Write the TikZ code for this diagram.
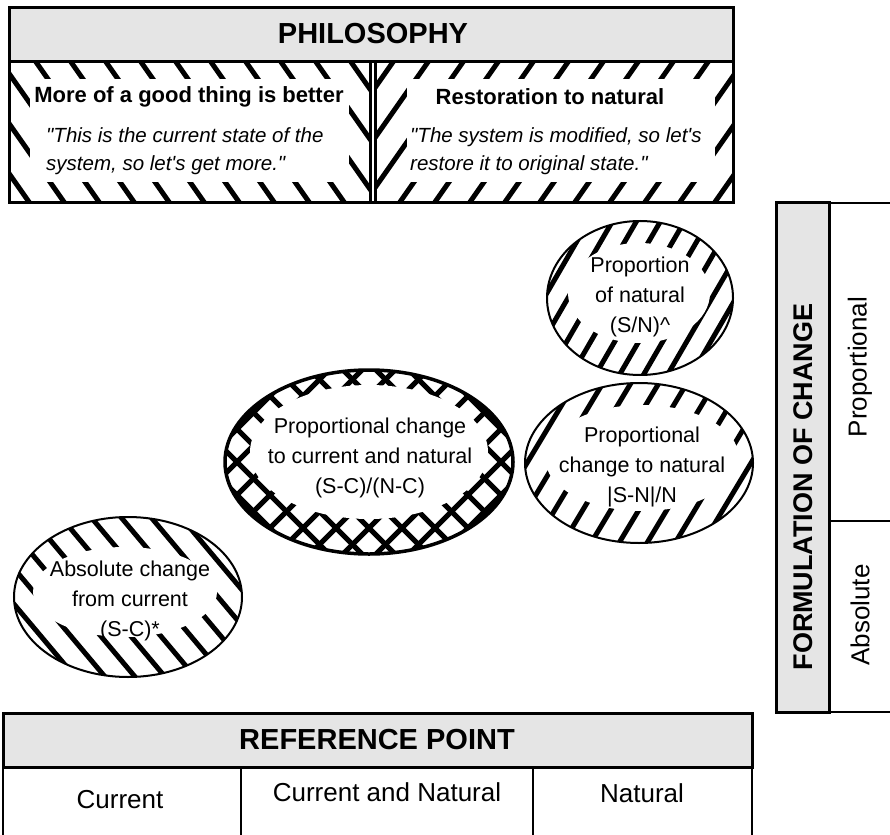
\documentclass[tikz,border=0pt]{standalone}
\usepackage{fontspec}
\setmainfont{Liberation Sans}[Ligatures=TeXOff]
\newcommand{\hatchback}[4]{\foreach \i in {-14,...,14} {\draw[stripe] ({#1+#3*\i-#4*300},{#2-300}) -- ({#1+#3*\i+#4*300},{#2+300});}}
\newcommand{\hatchfore}[4]{\foreach \i in {-14,...,14} {\draw[stripe] ({#1+#3*\i+#4*300},{#2-300}) -- ({#1+#3*\i-#4*300},{#2+300});}}
\begin{document}
\begin{tikzpicture}[x=1pt,y=-1pt,
  stripe/.style={line width=5pt,black},
  hfont/.style={font=\fontsize{29}{34}\selectfont\bfseries},
  tfont/.style={font=\fontsize{22}{27}\selectfont\bfseries},
  qfont/.style={font=\fontsize{20.5}{27.5}\selectfont\itshape,align=left,anchor=west,inner sep=0pt},
  efont/.style={font=\fontsize{21.5}{30}\selectfont,align=center,inner sep=0pt},
  lfont/.style={font=\fontsize{26}{30}\selectfont},
  rfont/.style={font=\fontsize{27}{32}\selectfont\bfseries},
  thick3/.style={line width=3pt,draw=black},
  thin2/.style={line width=1.5pt,draw=black},
  greyfill/.style={fill=black!10}]
\useasboundingbox (0,0) rectangle (890,834);
\fill[white] (0,0) rectangle (890,834);

% ---------------- PHILOSOPHY ----------------
\fill[greyfill] (9,8) rectangle (733,62);
\begin{scope}
  \clip (9,62) rectangle (371,203);
  \hatchback{190}{132}{35}{0.7}
  \fill[white] (30,79) rectangle (349,182);
\end{scope}
\begin{scope}
  \clip (375,62) rectangle (733,203);
  \hatchfore{554}{132}{35}{0.7}
  \fill[white] (407,79) rectangle (715,182);
\end{scope}
\draw[thick3] (9,8) rectangle (733,203);
\draw[thick3] (9,62) -- (733,62);
\draw[line width=2.5pt] (370.5,62) -- (370.5,203);
\draw[line width=2.5pt] (375.5,62) -- (375.5,203);
\node[hfont] (phil) at (373,34) {PHILOSOPHY};
\node[tfont] (good) at (189,97) {More of a good thing is better};
\node[qfont] (goodq) at (46,151) {"This is the current state of the\\system, so let's get more."};
\node[tfont] (rest) at (550,97) {Restoration to natural};
\node[qfont] (restq) at (410,151) {"The system is modified, so let's\\restore it to original state."};

% ---------------- Ellipse C: Proportion of natural ----------------
\begin{scope}
  \clip (640,298) ellipse [x radius=93pt, y radius=77pt];
  \hatchfore{640}{298}{24}{0.58}
  \fill[white] (639,293) ellipse [x radius=71pt, y radius=50pt];
\end{scope}
\draw[line width=2pt] (640,298) ellipse [x radius=93pt, y radius=77pt];
\node[efont] (propnat) at (640,297) {Proportion\\of natural\\(S/N)\textasciicircum};

% ---------------- Ellipse D: Proportional change to natural ----------------
\begin{scope}
  \clip (639,463) ellipse [x radius=114pt, y radius=80pt];
  \hatchfore{639}{463}{28}{0.6}
  \fill[white] (642,458) ellipse [x radius=97pt, y radius=53pt];
\end{scope}
\draw[line width=2pt] (639,463) ellipse [x radius=114pt, y radius=80pt];
\node[efont] (propchnat) at (642,467) {Proportional\\change to natural\\|S-N|/N};

% ---------------- Ellipse B: Proportional change to current and natural ----------------
\begin{scope}
  \clip (369,462) ellipse [x radius=144pt, y radius=92pt];
  \hatchfore{369}{462}{33}{1}
  \hatchback{369}{462}{33}{1}
  \fill[white] (369,452) ellipse [x radius=119pt, y radius=67pt];
\end{scope}
\draw[line width=3.5pt] (369,462) ellipse [x radius=144pt, y radius=92pt];
\node[efont] (propchcn) at (370,458) {Proportional change\\to current and natural\\(S-C)/(N-C)};

% ---------------- Ellipse A: Absolute change from current ----------------
\begin{scope}
  \clip (128,597) ellipse [x radius=114pt, y radius=80pt];
  \hatchback{128}{597}{30}{0.84}
  \fill[white] (125,592) ellipse [x radius=92pt, y radius=45pt];
\end{scope}
\draw[line width=2pt] (128,597) ellipse [x radius=114pt, y radius=80pt];
\node[efont] (abscur) at (130,601) {Absolute change\\from current\\(S-C)*};

% ---------------- FORMULATION OF CHANGE ----------------
\fill[greyfill] (776,203) rectangle (829,712);
\draw[thin2] (829,203) -- (900,203);
\draw[thin2] (829,712) -- (900,712);
\draw[thin2] (829,521) -- (900,521);
\draw[thick3] (776,203) rectangle (829,712);
\node[rfont,rotate=90] (form) at (803,487) {FORMULATION OF CHANGE};
\node[lfont,rotate=90] (fprop) at (860,367) {Proportional};
\node[lfont,rotate=90] (fabs) at (860,615) {Absolute};

% ---------------- REFERENCE POINT ----------------
\fill[greyfill] (3,713) rectangle (752,767);
\draw[thin2] (3,767) -- (3,850);
\draw[thin2] (752,767) -- (752,850);
\draw[thin2] (241,767) -- (241,850);
\draw[thin2] (533,767) -- (533,850);
\draw[thick3] (3,713) rectangle (752,767);
\node[hfont] (refp) at (377,740) {REFERENCE POINT};
\node[lfont] (rcur) at (120,800) {Current};
\node[lfont] (rcn) at (387,792) {Current and Natural};
\node[lfont] (rnat) at (642,793) {Natural};
\end{tikzpicture}
\end{document}
